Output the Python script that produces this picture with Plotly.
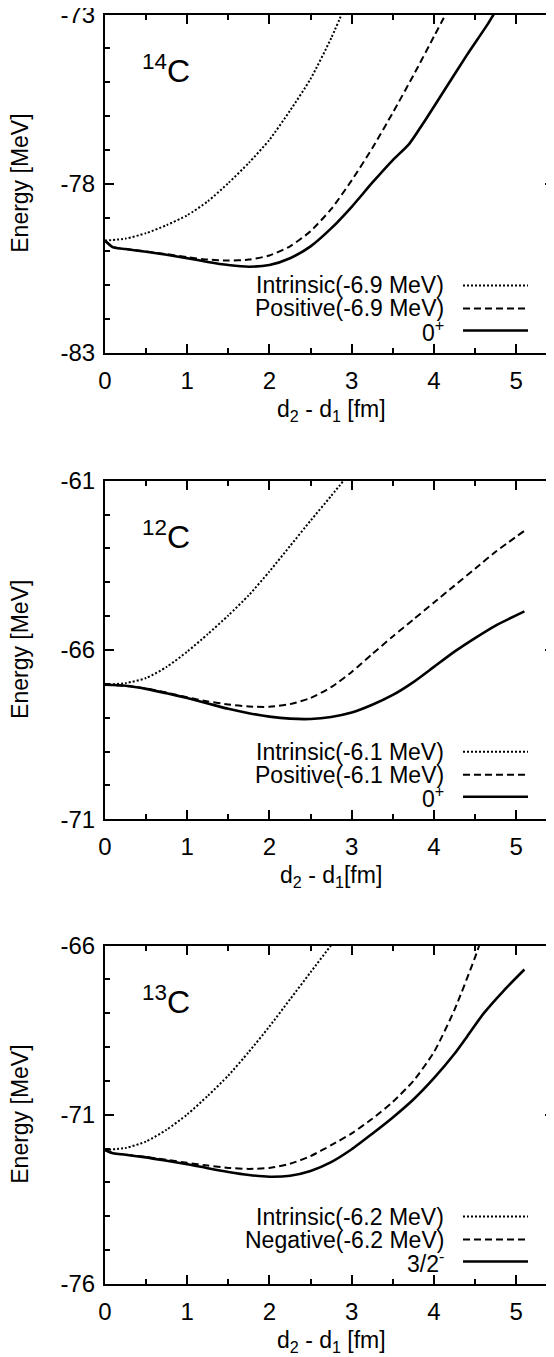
import plotly.graph_objects as go

# ---------------- data ----------------
# 14C panel
c14_intr_x = [0, 0.25, 0.5, 0.75, 1.0, 1.25, 1.5, 1.75, 2.0, 2.25, 2.5, 2.75, 3.0]
c14_intr_y = [-79.68, -79.62, -79.46, -79.22, -78.93, -78.52, -77.98, -77.38, -76.7, -75.84, -74.9, -73.7, -72.3]
c14_pos_x = [0, 0.1, 0.25, 0.5, 0.75, 1.0, 1.25, 1.5, 1.75, 2.0, 2.25, 2.5, 2.75, 3.0, 3.25, 3.5, 3.75, 4.0, 4.25]
c14_pos_y = [-79.68, -79.87, -79.93, -80.0, -80.08, -80.17, -80.24, -80.27, -80.24, -80.12, -79.85, -79.4, -78.75,
             -77.9, -76.95, -75.9, -74.8, -73.65, -72.5]
c14_gs_x = [0, 0.1, 0.25, 0.5, 0.75, 1.0, 1.25, 1.5, 1.75, 2.0, 2.25, 2.5, 2.75, 3.0, 3.25, 3.5, 3.7, 3.9, 4.15,
            4.4, 4.65, 4.8]
c14_gs_y = [-79.68, -79.88, -79.93, -80.01, -80.1, -80.2, -80.31, -80.4, -80.45, -80.4, -80.2, -79.85, -79.32,
            -78.68, -77.97, -77.3, -76.82, -76.1, -75.15, -74.2, -73.3, -72.7]

# 12C panel
c12_intr_x = [0, 0.25, 0.5, 0.75, 1.0, 1.25, 1.5, 1.75, 2.0, 2.25, 2.5, 2.75, 3.0]
c12_intr_y = [-67.03, -66.98, -66.83, -66.5, -66.05, -65.53, -64.98, -64.38, -63.68, -62.93, -62.18, -61.45, -60.7]
c12_pos_x = [0, 0.25, 0.5, 0.75, 1.0, 1.25, 1.5, 1.75, 2.0, 2.25, 2.5, 2.75, 3.0, 3.25, 3.5, 3.75, 4.0, 4.25,
             4.5, 4.75, 5.1]
c12_pos_y = [-67.03, -67.06, -67.14, -67.26, -67.4, -67.52, -67.61, -67.67, -67.68, -67.6, -67.42, -67.1, -66.65,
             -66.12, -65.6, -65.1, -64.6, -64.1, -63.6, -63.1, -62.48]
c12_gs_x = [0, 0.25, 0.5, 0.75, 1.0, 1.25, 1.5, 1.75, 2.0, 2.25, 2.5, 2.75, 3.0, 3.25, 3.5, 3.75, 4.0, 4.25,
            4.5, 4.75, 5.1]
c12_gs_y = [-67.03, -67.06, -67.15, -67.28, -67.42, -67.58, -67.74, -67.87, -67.97, -68.03, -68.04, -67.98,
            -67.85, -67.62, -67.33, -66.95, -66.5, -66.05, -65.65, -65.28, -64.86]

# 13C panel
c13_intr_x = [0, 0.25, 0.5, 0.75, 1.0, 1.25, 1.5, 1.75, 2.0, 2.25, 2.5, 2.75, 3.0]
c13_intr_y = [-72.04, -71.98, -71.79, -71.44, -70.99, -70.44, -69.84, -69.14, -68.39, -67.59, -66.79, -65.99, -65.19]
c13_neg_x = [0, 0.1, 0.25, 0.5, 0.75, 1.0, 1.25, 1.5, 1.75, 2.0, 2.25, 2.5, 2.75, 3.0, 3.25, 3.5, 3.75, 4.0,
             4.25, 4.5, 4.6]
c13_neg_y = [-72.04, -72.14, -72.18, -72.25, -72.33, -72.42, -72.5, -72.57, -72.6, -72.57, -72.45, -72.22, -71.9,
             -71.55, -71.12, -70.62, -70.0, -69.15, -67.9, -66.35, -65.65]
c13_gs_x = [0, 0.1, 0.25, 0.5, 0.75, 1.0, 1.25, 1.5, 1.75, 2.0, 2.25, 2.5, 2.75, 3.0, 3.25, 3.5, 3.75, 4.0, 4.25,
            4.4, 4.6, 4.85, 5.1]
c13_gs_y = [-72.04, -72.14, -72.18, -72.26, -72.36, -72.46, -72.58, -72.69, -72.78, -72.83, -72.8, -72.66, -72.4,
            -72.02, -71.56, -71.08, -70.55, -69.92, -69.2, -68.7, -68.02, -67.33, -66.71]

# tick values / labels
x_tick_vals = [0, 1, 2, 3, 4, 5]
x_tick_text = ["0", "1", "2", "3", "4", "5"]
c14_y_ticks = [-83, -78, -73]
c12_y_ticks = [-71, -66, -61]
c13_y_ticks = [-76, -71, -66]

# legend / label texts
c14_names = ["Intrinsic(-6.9 MeV)", "Positive(-6.9 MeV)", "0<sup>+</sup>"]
c12_names = ["Intrinsic(-6.1 MeV)", "Positive(-6.1 MeV)", "0<sup>+</sup>"]
c13_names = ["Intrinsic(-6.2 MeV)", "Negative(-6.2 MeV)", "3/2<sup>-</sup>"]
nuclei = ["<sup>14</sup>C", "<sup>12</sup>C", "<sup>13</sup>C"]
y_title = "Energy [MeV]"
x_titles = ["d<sub>2</sub> - d<sub>1</sub> [fm]", "d<sub>2</sub> - d<sub>1</sub>[fm]",
            "d<sub>2</sub> - d<sub>1</sub> [fm]"]

# ---------------- layout helpers ----------------
# The page body has an 8 px margin, so the figure is laid out in page pixels minus 8.
OFF = 8
PAGE_W, PAGE_H = 554, 1357
W, H = PAGE_W - OFF, PAGE_H - OFF
FONT = "Liberation Sans, Arial, Helvetica, sans-serif"
X_LEFT = 105          # page pixel of x = 0
X_RANGE = [0, 5.46]
panel_tops = [14.5, 480.7, 945.5]   # page pixels
PANEL_H = 338.5


def py(page_y):
    return 1 - (page_y - OFF) / H


def px(page_x):
    return (page_x - OFF) / W


panels = [
    dict(data=[(c14_intr_x, c14_intr_y), (c14_pos_x, c14_pos_y), (c14_gs_x, c14_gs_y)],
         yticks=c14_y_ticks, names=c14_names),
    dict(data=[(c12_intr_x, c12_intr_y), (c12_pos_x, c12_pos_y), (c12_gs_x, c12_gs_y)],
         yticks=c12_y_ticks, names=c12_names),
    dict(data=[(c13_intr_x, c13_intr_y), (c13_neg_x, c13_neg_y), (c13_gs_x, c13_gs_y)],
         yticks=c13_y_ticks, names=c13_names),
]

styles = [
    dict(color="black", width=2, dash="2px,2px"),
    dict(color="black", width=2, dash="7px,4px"),
    dict(color="black", width=2.6, dash="solid"),
]

fig = go.Figure()
annotations = []
shapes = []

for i, p in enumerate(panels):
    n = "" if i == 0 else str(i + 1)
    xa, ya = "x" + n, "y" + n
    for (xs, ys), st, name in zip(p["data"], styles, p["names"]):
        fig.add_trace(go.Scatter(x=xs, y=ys, mode="lines", name=name, xaxis=xa, yaxis=ya,
                                 line=dict(shape="spline", smoothing=0.6, **st),
                                 showlegend=False, cliponaxis=True))
    top = panel_tops[i]
    bot = top + PANEL_H
    ymin, ymax = min(p["yticks"]), max(p["yticks"])
    fig.update_layout(**{
        "xaxis" + n: dict(domain=[px(X_LEFT), 1], range=X_RANGE, anchor=ya,
                          showline=True, linewidth=2, linecolor="black", mirror="ticks",
                          ticks="inside", ticklen=9, tickwidth=1.5, tickcolor="black",
                          tickmode="array", tickvals=x_tick_vals, ticktext=x_tick_text,
                          minor=dict(dtick=0.5, tick0=0, ticks="inside", ticklen=5, tickwidth=1.5,
                                     tickcolor="black"),
                          tickfont=dict(family=FONT, size=24, color="black"),
                          ticklabelstandoff=5, ticklabeloverflow="allow",
                          showgrid=False, zeroline=False, automargin=False),
        "yaxis" + n: dict(domain=[py(bot), py(top)], range=[ymin, ymax], anchor=xa,
                          showline=True, linewidth=2, linecolor="black", mirror="ticks",
                          ticks="inside", ticklen=9, tickwidth=1.5, tickcolor="black",
                          tickmode="array", tickvals=p["yticks"], ticktext=[str(v) for v in p["yticks"]],
                          minor=dict(dtick=1, tick0=ymin, ticks="inside", ticklen=5, tickwidth=1.5,
                                     tickcolor="black"),
                          tickfont=dict(family=FONT, size=24, color="black"),
                          ticklabelstandoff=3, ticklabeloverflow="allow",
                          showgrid=False, zeroline=False, automargin=False),
    })
    # axis titles (placed as text next to each frame)
    annotations.append(dict(x=px(20), y=py(top + PANEL_H / 2), xref="paper", yref="paper",
                            text=y_title, textangle=-90, showarrow=False,
                            xanchor="center", yanchor="middle",
                            font=dict(family=FONT, size=23, color="black")))
    annotations.append(dict(x=px(331), y=py(bot + 57), xref="paper", yref="paper",
                            text=x_titles[i], showarrow=False,
                            xanchor="center", yanchor="middle",
                            font=dict(family=FONT, size=23, color="black")))
    # nucleus label
    annotations.append(dict(x=0.42, y=ymax - 1.6, xref=xa, yref=ya, text=nuclei[i], showarrow=False,
                            xanchor="left", yanchor="middle",
                            font=dict(family=FONT, size=32, color="black")))
    # custom legend: text right-aligned, key on the right
    rows = [top + 271, top + 294, top + 316]
    for r, name, st in zip(rows, p["names"], styles):
        annotations.append(dict(x=px(446), y=py(r), xref="paper", yref="paper", text=name,
                                showarrow=False, xanchor="right", yanchor="middle",
                                font=dict(family=FONT, size=23, color="black")))
        shapes.append(dict(type="line", xref="paper", yref="paper", x0=px(463), x1=px(528),
                           y0=py(r), y1=py(r), line=st))

fig.update_layout(
    width=W, height=H,
    margin=dict(l=0, r=0, t=0, b=0, pad=0),
    paper_bgcolor="white", plot_bgcolor="white",
    showlegend=False,
    annotations=annotations, shapes=shapes,
    font=dict(family=FONT, color="black"),
)

fig.write_html("out.html")
